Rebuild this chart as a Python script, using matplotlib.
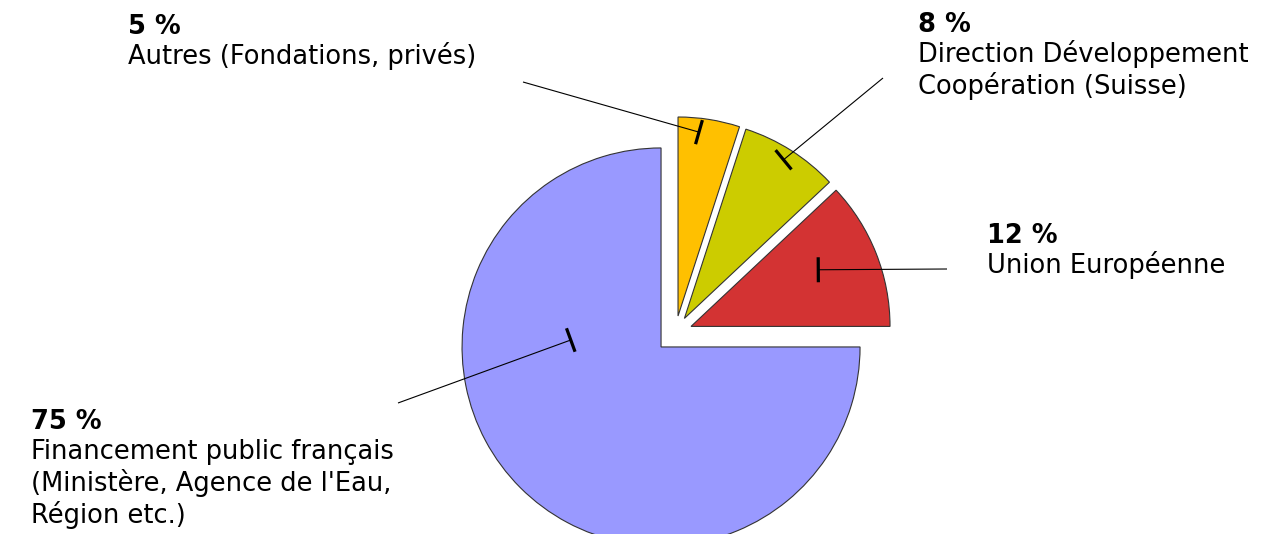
import numpy as np
import matplotlib
matplotlib.use('Agg')
import matplotlib.pyplot as plt

# Sources de financement (%), dans l'ordre du tracé (sens trigo depuis 3 h)
labels_pct = ['12 %', '8 %', '5 %', '75 %']
labels_txt = [
    ['Union Européenne'],
    ['Direction Développement', 'Coopération (Suisse)'],
    ['Autres (Fondations, privés)'],
    ['Financement public français', "(Ministère, Agence de l'Eau,", 'Région etc.)'],
]
values = [12, 8, 5, 75]
colors = ['#d33333', '#cccc00', '#ffc000', '#9999ff']

W, H = 1281, 534
fig = plt.figure(figsize=(W / 100, H / 100), dpi=100)
ax = fig.add_axes([0, 0, 1, 1])

R = 199
# coordonnées en pixels image (y vers le bas) -> sens horaire dans les données
# (explode est en unités de données, ici des pixels)
wedges, _ = ax.pie(values, colors=colors, startangle=0, counterclock=False,
                   center=(675.4, 332.6), radius=R,
                   explode=[16.8, 16.8, 16.8, 20.3],
                   wedgeprops=dict(edgecolor='#333333', linewidth=0.8))
ax.set_xlim(0, W)
ax.set_ylim(H, 0)
ax.set_aspect('equal')
ax.axis('off')

# ancrage des traits de rappel: angle visuel (deg) et fraction du rayon
anchor_ang = [24, 58, 83.5, 175.6]
anchor_frac = [0.70, 0.94, 0.93, 0.455]
# extrémité côté texte, position du texte (x, ligne de base du titre)
line_end = [(947, 269), (883, 78), (523, 82), (398, 403)]
text_pos = [(987, 243), (918, 32), (128, 34), (31, 429)]

fs = 18.5
for w, a, f, end, tp, pct, txt in zip(wedges, anchor_ang, anchor_frac,
                                       line_end, text_pos, labels_pct, labels_txt):
    cx, cy = w.center
    t = np.deg2rad(a)
    px = cx + f * w.r * np.cos(t)
    py = cy - f * w.r * np.sin(t)
    ax.plot([px, end[0]], [py, end[1]], color='black', lw=0.8,
            solid_capstyle='butt')
    d = np.array([end[0] - px, end[1] - py])
    d = d / np.hypot(*d)
    n = np.array([-d[1], d[0]]) * 12.5
    ax.plot([px - n[0], px + n[0]], [py - n[1], py + n[1]], color='black',
            lw=2.3, solid_capstyle='butt')

    x, y = tp
    ax.text(x, y, pct, fontsize=fs, fontweight='bold', va='baseline',
            ha='left', color='black')
    y += 30
    for line in txt:
        ax.text(x, y, line, fontsize=fs, va='baseline', ha='left',
                color='black')
        y += 32

fig.savefig('out.png', dpi=100)
